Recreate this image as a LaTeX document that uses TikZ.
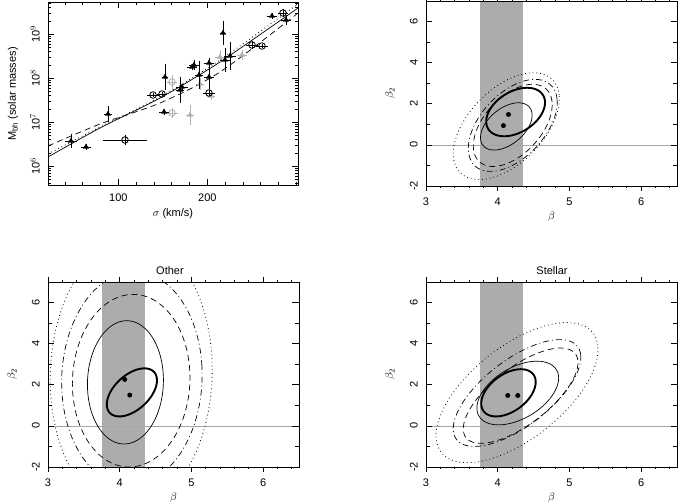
\documentclass[tikz,border=0pt]{standalone}
\usepackage{fontspec}
\setmainfont{Liberation Sans}
\usetikzlibrary{shapes.geometric}
\begin{document}
\begin{tikzpicture}[x=1pt,y=-1pt,font=\fontsize{11}{12}\selectfont,
 thinl/.style={line width=0.7pt},
 thickl/.style={line width=1.9pt},
 dsh/.style={line width=0.7pt,dash pattern=on 6pt off 4pt},
 ddot/.style={line width=0.7pt,dash pattern=on 6pt off 3pt on 1pt off 3pt},
 dott/.style={line width=0.8pt,dash pattern=on 0.8pt off 3pt},
 frame/.style={line width=0.8pt},
 ebar/.style={line width=0.9pt},
 gbar/.style={line width=0.9pt,draw=gray!60},
 tri/.style={fill=black,regular polygon,regular polygon sides=3}]
\useasboundingbox (0,0) rectangle (678,503);
\newcommand{\cpanel}[3]{%
 \begin{scope}
 \clip (#1,#2) rectangle ++(251,-185);
 \begin{scope}[shift={(#1-215.1,#2-41.1)},xscale=71.7,yscale=-20.55]
  \fill[gray!65] (3.76,-2) rectangle (4.35,7);
  \draw[gray!70,line width=0.7pt] (3,0) -- (6.5,0);
  #3
 \end{scope}
 \end{scope}
 \begin{scope}[shift={(#1-215.1,#2-41.1)},xscale=71.7,yscale=-20.55]
  \draw[frame] (3,-2) rectangle (6.5,7);
  \foreach \t in {3.2,3.4,...,6.4}{\draw[thinl] (\t,-2) -- ++(0,-0.12);\draw[thinl] (\t,7) -- ++(0,0.12);}
  \foreach \t in {3,4,5,6}{\draw[thinl] (\t,-2) -- ++(0,-0.25);\draw[thinl] (\t,7) -- ++(0,0.25);
    \node at (\t,-2.75) {\t};}
  \foreach \t in {-1,0,...,6}{\draw[thinl] (3,\t) -- ++(0.05,0);\draw[thinl] (6.5,\t) -- ++(-0.05,0);}
  \foreach \t in {-2,0,2,4,6}{\draw[thinl] (3,\t) -- ++(0.09,0);\draw[thinl] (6.5,\t) -- ++(-0.09,0);
    \node[rotate=90] at (2.83,\t) {\t};}
  \node at (4.75,-3.5) {$\beta$};
  \node[rotate=90] at (2.5,2.5) {$\beta_2$};
 \end{scope}}
\newcommand{\ellc}[6]{\draw[#1] plot[domain=0:360,samples=80,smooth cycle,variable=\u] ({#2+#4*cos(\u)},{#3+#5*cos(\u-#6)});}
\newcommand{\dotp}[2]{\fill (#1,#2) circle[x radius=0.035,y radius=0.12];}
\cpanel{426}{186}{
 \ellc{dott}{4.12}{0.91}{0.74}{2.6}{59}
 \ellc{ddot}{4.21}{0.95}{0.62}{2.24}{60}
 \ellc{dsh}{4.21}{0.95}{0.55}{2.0}{60}
 \ellc{thinl}{4.12}{0.9}{0.36}{1.15}{62}
 \ellc{thickl}{4.25}{1.6}{0.41}{1.18}{67}
 \dotp{4.15}{1.48}\dotp{4.08}{0.94}}
\cpanel{48}{467}{
 \ellc{dott}{4.16}{2.5}{1.13}{6.6}{88}
 \ellc{ddot}{4.17}{2.3}{0.98}{5.2}{88}
 \ellc{dsh}{4.16}{2.2}{0.82}{4.2}{88}
 \ellc{thinl}{4.08}{2.12}{0.53}{3.0}{88}
 \ellc{thickl}{4.17}{1.63}{0.35}{1.17}{60}
 \dotp{4.07}{2.26}\dotp{4.14}{1.5}}
\node (other) at (170,271) {Other};
\cpanel{426}{467}{
 \ellc{dott}{4.27}{1.62}{1.13}{3.41}{52}
 \ellc{ddot}{4.27}{1.6}{0.89}{2.6}{48}
 \ellc{dsh}{4.32}{1.47}{0.8}{2.32}{46}
 \ellc{thinl}{4.28}{1.6}{0.57}{1.55}{62}
 \ellc{thickl}{4.15}{1.61}{0.38}{1.15}{63}
 \dotp{4.14}{1.48}\dotp{4.28}{1.48}}
\node (stellar) at (552,271) {Stellar};
\begin{scope}
\clip (48,2) rectangle (298,185);
\draw[thinl] plot[smooth] coordinates {(48,157) (100,128) (160,98) (220,62) (298,8)};
\draw[dsh] plot[smooth] coordinates {(48,146) (100,124) (160,103) (220,72) (298,13)};
\draw[dott] plot[smooth] coordinates {(48,154) (100,127) (160,97) (220,60) (298,4)};
\foreach \px/\py/\h/\v in {190/115/4/10,200/84/4/6,211/96/4/4,220/57/5/6,242/55/5/5}{
 \draw[gbar] (\px-\h,\py) -- (\px+\h,\py) (\px,\py-\v) -- (\px,\py+\v);
 \node[tri,fill=gray!60,inner sep=1.2pt] at (\px,\py) {};}
\foreach \px/\py/\h/\v in {172/82/5/7,172/113/6/5}{
 \draw[gbar] (\px-\h,\py) -- (\px+\h,\py) (\px,\py-\v) -- (\px,\py+\v);
 \draw[gray!60,line width=0.8pt] (\px,\py) circle(3.3);}
\foreach \px/\py/\h/\v in {71/141/6/7,86/147/5/3,108/114/4/8,164/112/5/3,165/77/3/13,180/90/4/13,182/87/6/3,192/67/5/3,194/65/5/5,199/75/4/14,209/63/5/5,209/77/5/12,223/33/3/12,225/60/5/12,230/56/6/14,272/16/5/3,286/20/5/5}{
 \draw[ebar] (\px-\h,\py) -- (\px+\h,\py) (\px,\py-\v) -- (\px,\py+\v);
 \node[tri,inner sep=1.2pt] at (\px,\py) {};}
\foreach \px/\py/\h/\v in {125/140/22/5,153/95/6/2,162/94/5/2,209/93/6/3,252/45/6/4,262/46/6/2,283/13/5/4}{
 \draw[ebar] (\px-\h,\py) -- (\px+\h,\py) (\px,\py-\v) -- (\px,\py+\v);
 \draw[line width=0.8pt] (\px,\py) circle(3.3);}
\end{scope}
\draw[frame] (48,2) rectangle (298,185);
\foreach \s in {40,60,...,300}{\draw[thinl] ({48+(\s-21)*0.89},185) -- ++(0,-3);\draw[thinl] ({48+(\s-21)*0.89},2) -- ++(0,3);}
\foreach \s in {100,200}{\draw[thinl] ({48+(\s-21)*0.89},185) -- ++(0,-6);\draw[thinl] ({48+(\s-21)*0.89},2) -- ++(0,6);
 \node at ({48+(\s-21)*0.89},198) {\s};}
\node (xlab) at (173,214) {$\sigma$ (km/s)};
\foreach \d in {5,6,7,8,9}{
 \foreach \m in {2,...,9}{
  \pgfmathsetmacro{\yy}{2+(9.73-\d-log10(\m))*44}
  \ifdim\yy pt>2pt \ifdim\yy pt<185pt
   \draw[thinl] (48,\yy) -- ++(3,0); \draw[thinl] (298,\yy) -- ++(-3,0);
  \fi\fi}}
\foreach \d in {6,7,8,9}{
 \pgfmathsetmacro{\yy}{2+(9.73-\d)*44}
 \draw[thinl] (48,\yy) -- ++(6,0); \draw[thinl] (298,\yy) -- ++(-6,0);
 \node[rotate=90] at (35,\yy) {10$^{\d}$};}
\node[rotate=90] (ylab) at (13,94) {M$_{\mathrm{bh}}$ (solar masses)};
\end{tikzpicture}
\end{document}
